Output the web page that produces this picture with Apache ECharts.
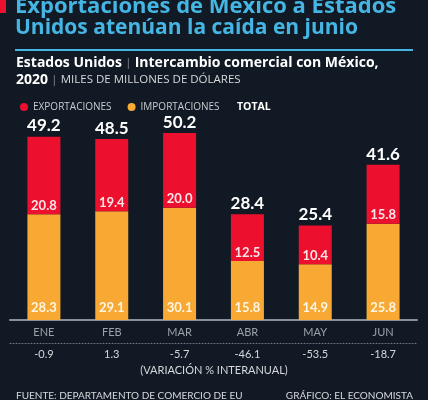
<!DOCTYPE html>
<html>
<head>
<meta charset="utf-8">
<script src="https://cdn.jsdelivr.net/npm/echarts@6/dist/echarts.min.js"></script>
<style>
html,body{margin:0;padding:0;background:#111a24;}
#c{width:428px;height:400px;}
</style>
</head>
<body>
<div id="c"></div>
<script>
const categories = ['ENE', 'FEB', 'MAR', 'ABR', 'MAY', 'JUN'];
const exportaciones = [20.8, 19.4, 20.0, 12.5, 10.4, 15.8];
const importaciones = [28.3, 29.1, 30.1, 15.8, 14.9, 25.8];
const totales = [49.2, 48.5, 50.2, 28.4, 25.4, 41.6];
const variacion = ['-0.9', '1.3', '-5.7', '-46.1', '-53.5', '-18.7'];

const FONT = 'Lato, "Open Sans", sans-serif';
const WIDE = '"Open Sans", Lato, sans-serif';
const chart = echarts.init(document.getElementById('c'), null, {renderer: 'canvas'});

chart.setOption({
  backgroundColor: '#111a24',
  animation: false,
  textStyle: {fontFamily: FONT},
  grid: {left: 10, right: 11, top: 96, bottom: 80},
  legend: [
    {
      data: [{name: 'EXPORTACIONES'}, {name: 'IMPORTACIONES'}],
      left: 15, top: 97,
      icon: 'circle', itemWidth: 8, itemHeight: 8, itemGap: 16,
      textStyle: {color: '#c9ccd0', fontSize: 10, fontFamily: WIDE}
    },
    {
      data: [{name: 'TOTAL'}],
      left: 227, top: 97,
      icon: 'none', itemWidth: 0, itemHeight: 8,
      textStyle: {color: '#ffffff', fontSize: 10.5, fontWeight: 'bold', fontFamily: WIDE}
    }
  ],
  xAxis: [
    {
      type: 'category', data: categories, position: 'bottom',
      axisLine: {show: true, lineStyle: {color: '#8a9099', width: 2}},
      axisTick: {show: false},
      axisLabel: {color: '#9ba1a8', fontSize: 11, margin: 7, fontFamily: FONT}
    },
    {
      type: 'category', data: variacion, position: 'bottom', offset: 23,
      axisLine: {show: true, lineStyle: {color: '#6f7680', width: 1, type: [1, 2]}},
      axisTick: {show: false},
      axisLabel: {color: '#d6d8db', fontSize: 11, margin: 6, fontFamily: FONT}
    }
  ],
  yAxis: {type: 'value', min: 0, max: 60, show: false, splitLine: {show: false}},
  series: [
    {
      name: 'IMPORTACIONES', type: 'bar', stack: 'x', barWidth: 33, data: importaciones,
      itemStyle: {color: '#f7a934'},
      label: {show: true, position: 'insideBottom', distance: 6, color: '#fff5e3',
              fontSize: 13, fontWeight: 'bold', fontFamily: FONT,
              formatter: p => p.value.toFixed(1)}
    },
    {
      name: 'EXPORTACIONES', type: 'bar', stack: 'x', barWidth: 33, data: exportaciones,
      itemStyle: {color: '#ec0f2e'},
      label: {show: true, position: 'insideBottom', distance: 2, color: '#fde6e8',
              fontSize: 13, fontWeight: 'bold', fontFamily: FONT,
              formatter: p => p.value.toFixed(1)}
    },
    {
      name: 'TOTAL', type: 'bar', barWidth: 33, barGap: '-100%', data: totales,
      itemStyle: {color: 'rgba(0,0,0,0)'}, z: 1, silent: true,
      label: {show: true, position: 'top', distance: 2, color: '#ffffff',
              fontSize: 17, fontWeight: 'bold', fontFamily: FONT,
              formatter: p => p.value.toFixed(1)}
    }
  ],
  graphic: [
    {type: 'rect', shape: {x: 0, y: 0, width: 6, height: 13}, style: {fill: '#ec0f2e'}},
    {type: 'text', x: 15, y: 7, style: {text: 'Exportaciones de México a Estados', fill: '#45b5e3',
      font: 'bold 22px ' + WIDE, textVerticalAlign: 'middle'}},
    {type: 'text', x: 15, y: 28, style: {text: 'Unidos atenúan la caída en junio', fill: '#45b5e3',
      font: 'bold 21px ' + WIDE, textVerticalAlign: 'middle'}},
    {type: 'rect', shape: {x: 15, y: 49, width: 398, height: 2}, style: {fill: '#45b5e3'}},
    {type: 'text', x: 16, y: 63, style: {
      text: '{b|Estados Unidos} {s||} {b|Intercambio comercial con México,}',
      textVerticalAlign: 'middle',
      rich: {
        b: {fontFamily: WIDE, fontWeight: 'bold', fontSize: 14, fill: '#ffffff'},
        s: {fontFamily: WIDE, fontSize: 11, fill: '#8a9099'}
      }}},
    {type: 'text', x: 16, y: 80, style: {
      text: '{b|2020} {s||} {r|MILES DE MILLONES DE DÓLARES}',
      textVerticalAlign: 'middle',
      rich: {
        b: {fontFamily: WIDE, fontWeight: 'bold', fontSize: 14, fill: '#ffffff'},
        s: {fontFamily: WIDE, fontSize: 11, fill: '#8a9099'},
        r: {fontFamily: WIDE, fontSize: 11.5, fill: '#d6d8db'}
      }}},
    {type: 'text', x: 214, y: 370, style: {text: '(VARIACIÓN % INTERANUAL)', fill: '#d6d8db',
      font: '11px ' + FONT, textAlign: 'center', textVerticalAlign: 'middle'}},
    {type: 'text', x: 16, y: 396, style: {text: 'FUENTE: DEPARTAMENTO DE COMERCIO DE EU', fill: '#d6d8db',
      font: '10px ' + FONT, textVerticalAlign: 'middle'}},
    {type: 'text', x: 413, y: 396, style: {text: 'GRÁFICO: EL ECONOMISTA', fill: '#d6d8db',
      font: '10px ' + FONT, textAlign: 'right', textVerticalAlign: 'middle'}}
  ]
});
</script>
</body>
</html>
